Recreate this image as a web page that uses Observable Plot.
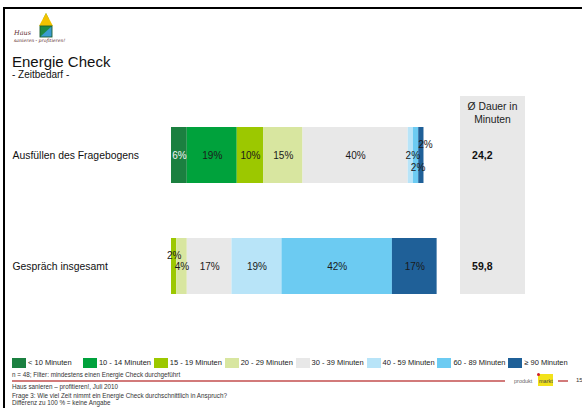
<!DOCTYPE html>
<html>
<head>
<meta charset="utf-8">
<script src="https://cdn.jsdelivr.net/npm/d3@7"></script>
<script src="https://cdn.jsdelivr.net/npm/@observablehq/plot@0.6"></script>
<style>
  html, body { margin: 0; padding: 0; background: #fff; }
  #page { position: relative; width: 582px; height: 408px; overflow: hidden; font-family: "Liberation Sans", Arial, sans-serif; color: #111; }
  .abs { position: absolute; white-space: nowrap; }
  #frame { position: absolute; left: 3px; top: 7px; width: 600px; height: 420px; border-top: 2px solid #000; border-left: 2px solid #000; }
  #panel { position: absolute; left: 460px; top: 96px; width: 65px; height: 198px; background: #e8e8e8; }
  #panelHead { position: absolute; left: 460px; top: 100px; width: 65px; text-align: center; font-size: 10.3px; line-height: 13px; color: #222; }
  #chart { position: absolute; left: 0; top: 0; }
  .leg { position: absolute; top: 358px; font-size: 7.5px; line-height: 10px; color: #222; }
  .leg span.sw { position: absolute; left: 0; top: 0; width: 14px; height: 10px; }
  .leg span.t { position: absolute; left: 16px; top: 0; white-space: nowrap; }
  .foot { position: absolute; left: 12px; font-size: 6.3px; line-height: 7px; color: #333; white-space: nowrap; }
</style>
</head>
<body>
<div id="page">
  <div id="frame"></div>
  <svg class="abs" style="left:10px;top:11px" width="60" height="38" viewBox="0 0 60 38">
    <polygon points="36,2 33,8 39,8" fill="#2aa04a"/>
    <polygon points="36,2 29,15 43,15" fill="#f2c200"/>
    <rect x="30" y="15" width="12" height="11" fill="#3a9bd0"/>
    <polygon points="30,15 42,15 30,26" fill="#1e8a44"/>
    <rect x="30" y="15" width="12" height="11" fill="none" stroke="#1b5e30" stroke-width="0.9"/>
    <text x="4" y="24" font-size="6.5" font-style="italic" fill="#5a2a2a" font-family="DejaVu Serif, serif">Haus</text>
    <text x="4" y="31" font-size="4.6" font-style="italic" fill="#5a2a2a" font-family="DejaVu Serif, serif">sanieren - profitieren!</text>
  </svg>
  <div class="abs" style="left:12px;top:53px;font-size:15px;line-height:17px;">Energie Check</div>
  <div class="abs" style="left:12px;top:69px;font-size:10px;line-height:12px;">- Zeitbedarf -</div>
  <div id="panel"></div>
  <div id="panelHead">Ø Dauer in<br>Minuten</div>
  <div id="chart"></div>
  <div id="legend"></div>
  <div class="foot" style="top:371px;">n = 48; Filter: mindestens einen Energie Check durchgeführt</div>
  <div class="abs" style="left:12px;top:380px;width:493px;height:1.5px;background:#d27a7a;"></div>
  <div class="abs" style="left:558px;top:380px;width:10px;height:1.5px;background:#d27a7a;"></div>
  <div class="abs" style="left:514px;top:378px;font-size:5.5px;color:#666;line-height:7px;">produkt</div>
  <div class="abs" style="left:538px;top:374px;width:15px;height:12px;background:#f2e21a;"></div>
  <div class="abs" style="left:537px;top:373px;width:3px;height:3px;border-radius:2px;background:#d0202a;"></div>
  <div class="abs" style="left:539px;top:378px;font-size:5.5px;color:#444;line-height:7px;">markt</div>
  <div class="abs" style="left:576px;top:377px;font-size:6px;color:#333;line-height:7px;">15</div>
  <div class="foot" style="top:383px;">Haus sanieren – profitieren!, Juli 2010</div>
  <div class="foot" style="top:392px;">Frage 3: Wie viel Zeit nimmt ein Energie Check durchschnittlich in Anspruch?</div>
  <div class="foot" style="top:399px;">Differenz zu 100 % = keine Angabe</div>
</div>
<script>
const categories = ["Ausfüllen des Fragebogens", "Gespräch insgesamt"];
const bins = ["< 10 Minuten", "10 - 14 Minuten", "15 - 19 Minuten", "20 - 29 Minuten", "30 - 39 Minuten", "40 - 59 Minuten", "60 - 89 Minuten", "≥ 90 Minuten"];
const fragebogenValues = [6, 19, 10, 15, 40, 2, 2, 2];
const gespraechValues = [0, 0, 2, 4, 17, 19, 42, 17];
const averages = ["24,2", "59,8"];
const binColors = ["#1b8040", "#00a23c", "#9cc800", "#d8e6a0", "#e8e8e8", "#b8e4f8", "#6ccbf2", "#1f6098"];

const seriesByCategory = [fragebogenValues, gespraechValues];
const rows = [];
categories.forEach((c, ci) => {
  bins.forEach((b, bi) => {
    const v = seriesByCategory[ci][bi];
    if (v > 0) rows.push({category: c, bin: b, value: v, ci, bi});
  });
});

// label placement for tiny segments (staggered as in the original)
function labelDy(d) {
  if (d.value >= 5) return 0;
  if (d.ci === 0) return d.bi === 6 ? 12 : d.bi === 7 ? -11 : 0;
  return d.bi === 2 ? -11 : 0;
}
function labelDx(d) {
  if (d.value >= 5) return 0;
  if (d.ci === 0) return d.bi === 7 ? 4 : 2;
  return 0;
}
const textColor = d => d.bi === 0 ? "#f4f4f4" : "#1a1a1a";

const groups = d3.groups(rows, d => `${labelDx(d)}|${labelDy(d)}|${textColor(d)}`);

const marks = [
  Plot.barX(rows, Plot.stackX({x: "value", y: "category", fill: "bin", order: null})),
  ...groups.map(([key, subset]) => {
    const [dx, dy, col] = key.split("|");
    return Plot.text(rows, Plot.stackX({
      x: "value", y: "category", z: "bin", order: null,
      text: d => subset.includes(d) ? d.value + "%" : "",
      dx: +dx, dy: +dy, fill: col, fontSize: 10
    }));
  }),
  Plot.text(categories, {y: d => d, text: d => d, frameAnchor: "left", dx: -159, textAnchor: "start", fontSize: 10.4, fill: "#111"}),
  Plot.text(categories, {y: d => d, text: (d, i) => averages[i], frameAnchor: "right", dx: 58, fontSize: 10.5, fontWeight: "bold", fill: "#111"})
];

const chart = Plot.plot({
  width: 582,
  height: 408,
  marginLeft: 171,
  marginRight: 148,
  marginTop: 0,
  marginBottom: 0,
  x: {domain: [0, 100], axis: null},
  y: {domain: categories, range: [71.5, 349], padding: 0.5, axis: null},
  color: {domain: bins, range: binColors},
  style: {background: "transparent", fontFamily: "Liberation Sans, Arial, sans-serif"},
  marks
});
document.getElementById("chart").appendChild(chart);

const legend = document.getElementById("legend");
bins.forEach((b, i) => {
  const item = document.createElement("div");
  item.className = "leg";
  item.style.left = (12 + i * 70.9) + "px";
  item.innerHTML = `<span class="sw" style="background:${binColors[i]}"></span><span class="t"></span>`;
  item.querySelector(".t").textContent = b;
  legend.appendChild(item);
});
</script>
</body>
</html>
